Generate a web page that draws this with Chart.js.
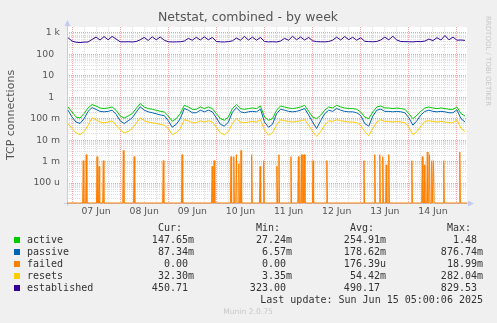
<!DOCTYPE html>
<html>
<head>
<meta charset="utf-8">
<script src="https://cdn.jsdelivr.net/npm/chart.js@4.4.1/dist/chart.umd.min.js"></script>
<style>
  html, body { margin: 0; padding: 0; background: #f0f0f0; }
  #wrap { width: 497px; height: 323px; }
</style>
</head>
<body>
<div id="wrap"><canvas id="netstat" width="497" height="323"></canvas></div>
<script>
// samples every 2 hours, hours counted from 06 Jun 00:00
const startHour = 22;
const stepHours = 2;
const axisMinHour = 21.5;
const axisMaxHour = 221;
const yMin = 1.17e-5;
const yMax = 1900;

const dayLabels = ["07 Jun", "08 Jun", "09 Jun", "10 Jun", "11 Jun", "12 Jun", "13 Jun", "14 Jun"];
const firstLabelHour = 36;

const decadeLabels = { "-4": "100 u", "-3": "1 m", "-2": "10 m", "-1": "100 m", "0": "1  ", "1": "10  ", "2": "100  ", "3": "1 k" };

const active = [
  0.353, 0.206, 0.120, 0.108, 0.173, 0.317, 0.456, 0.393, 0.317, 0.297,
  0.317, 0.353, 0.247, 0.134, 0.108, 0.134, 0.173, 0.297, 0.508, 0.353,
  0.297, 0.275, 0.247, 0.222, 0.206, 0.134, 0.076, 0.101, 0.173, 0.423,
  0.353, 0.275, 0.275, 0.353, 0.297, 0.353, 0.297, 0.173, 0.101, 0.085,
  0.120, 0.297, 0.456, 0.297, 0.275, 0.297, 0.317, 0.297, 0.393, 0.120,
  0.085, 0.101, 0.247, 0.393, 0.353, 0.317, 0.297, 0.317, 0.353, 0.423,
  0.222, 0.120, 0.101, 0.145, 0.247, 0.353, 0.317, 0.423, 0.353, 0.317,
  0.297, 0.297, 0.275, 0.206, 0.120, 0.101, 0.206, 0.353, 0.393, 0.317,
  0.317, 0.297, 0.317, 0.297, 0.275, 0.173, 0.101, 0.145, 0.222, 0.317,
  0.353, 0.317, 0.297, 0.317, 0.297, 0.275, 0.275, 0.353, 0.173, 0.134
];
const passive = [
  0.25, 0.12, 0.07, 0.06, 0.10, 0.22, 0.33, 0.27, 0.22, 0.21,
  0.22, 0.25, 0.16, 0.08, 0.06, 0.08, 0.11, 0.20, 0.36, 0.25,
  0.21, 0.19, 0.17, 0.15, 0.14, 0.08, 0.04, 0.055, 0.10, 0.30,
  0.25, 0.19, 0.19, 0.25, 0.21, 0.25, 0.21, 0.11, 0.055, 0.045,
  0.07, 0.20, 0.33, 0.21, 0.19, 0.21, 0.22, 0.21, 0.28, 0.07,
  0.04, 0.055, 0.17, 0.28, 0.25, 0.22, 0.21, 0.22, 0.25, 0.30,
  0.15, 0.07, 0.035, 0.08, 0.17, 0.25, 0.22, 0.30, 0.25, 0.22,
  0.21, 0.21, 0.19, 0.14, 0.06, 0.045, 0.13, 0.25, 0.28, 0.22,
  0.22, 0.21, 0.22, 0.21, 0.19, 0.11, 0.05, 0.08, 0.15, 0.22,
  0.25, 0.22, 0.21, 0.22, 0.21, 0.19, 0.19, 0.26, 0.10, 0.07
];
const resets = [
  0.06, 0.035, 0.022, 0.018, 0.025, 0.05, 0.11, 0.09, 0.07, 0.065,
  0.07, 0.08, 0.05, 0.03, 0.022, 0.025, 0.035, 0.06, 0.11, 0.08,
  0.07, 0.065, 0.06, 0.055, 0.05, 0.035, 0.018, 0.022, 0.035, 0.09,
  0.08, 0.065, 0.065, 0.08, 0.07, 0.08, 0.07, 0.04, 0.022, 0.018,
  0.025, 0.06, 0.10, 0.07, 0.065, 0.07, 0.075, 0.07, 0.09, 0.03,
  0.017, 0.022, 0.05, 0.09, 0.08, 0.075, 0.07, 0.075, 0.08, 0.09,
  0.05, 0.025, 0.015, 0.025, 0.05, 0.08, 0.075, 0.09, 0.08, 0.075,
  0.07, 0.07, 0.065, 0.05, 0.025, 0.016, 0.035, 0.07, 0.09, 0.075,
  0.075, 0.07, 0.075, 0.07, 0.065, 0.04, 0.018, 0.025, 0.045, 0.075,
  0.08, 0.075, 0.07, 0.075, 0.07, 0.065, 0.065, 0.09, 0.035, 0.025
];
const established = [
  600, 420, 370, 360, 375, 380, 500, 640, 470, 680,
  480, 690, 520, 390, 385, 390, 380, 400, 480, 620,
  450, 660, 480, 650, 460, 390, 380, 385, 390, 420,
  560, 460, 630, 470, 660, 480, 620, 400, 385, 380,
  395, 430, 580, 460, 690, 470, 640, 460, 620, 400,
  385, 390, 380, 420, 560, 460, 700, 480, 650, 470,
  620, 430, 395, 390, 385, 400, 460, 640, 470, 680,
  490, 630, 460, 600, 410, 395, 390, 400, 470, 640,
  480, 700, 470, 400, 395, 390, 385, 400, 395, 420,
  520, 440, 600, 470, 760, 480, 640, 460, 470, 450
];
// failed: short spikes, zero otherwise
const failedHours = [
  29.6, 31.1, 36.5, 37.5, 39.6, 49.6, 55.0, 69.5, 78.9, 93.9, 94.9,
  103.3, 104.7, 106.0, 107.2, 108.3, 113.6, 117.8, 119.6, 126.2, 127.2,
  133.2, 136.9, 138.4, 139.2, 139.9, 144.2, 151.1, 169.6, 175.0, 177.5,
  179.0, 180.7, 182.0, 193.5, 198.7, 199.7, 201.2, 202.3, 203.4, 204.3,
  209.4, 217.4
];
const failedValues = [
  0.0011, 0.0021, 0.0017, 0.0006, 0.0011, 0.0033, 0.0017, 0.0011, 0.0021, 0.0006, 0.0011,
  0.0017, 0.0017, 0.0021, 0.0008, 0.0033, 0.0021, 0.0006, 0.0011, 0.0006, 0.0021,
  0.0017, 0.0017, 0.0021, 0.0021, 0.0021, 0.0011, 0.0011, 0.0011, 0.0021, 0.0021,
  0.0017, 0.0007, 0.0021, 0.0011, 0.0017, 0.0007, 0.0028, 0.0021, 0.0011, 0.0011,
  0.0011, 0.0028
];

const seriesNames = ["active", "passive", "failed", "resets", "established"];
const seriesColors = ["#00cc00", "#0066b3", "#ff8000", "#ffcc00", "#330099"];
const curValues = ["147.65m", "87.34m", "0.00", "32.30m", "450.71"];
const minValues = ["27.24m", "6.57m", "0.00", "3.35m", "323.00"];
const avgValues = ["254.91m", "178.62m", "176.39u", "54.42m", "490.17"];
const maxValues = ["1.48", "876.74m", "18.99m", "282.04m", "829.53"];
const lastUpdate = "Last update: Sun Jun 15 05:00:06 2025";

function toPoints(values) {
  return values.map((v, i) => ({ x: startHour + i * stepHours, y: v }));
}

// zero is drawn on the floor of the log axis, like rrdtool does
const failedPoints = [{ x: axisMinHour, y: yMin }];
failedHours.forEach((h, i) => {
  failedPoints.push({ x: h - 0.3, y: yMin });
  failedPoints.push({ x: h, y: failedValues[i] });
  failedPoints.push({ x: h + 0.3, y: yMin });
});
failedPoints.push({ x: axisMaxHour, y: yMin });

const PLOT = { left: 67, right: 467, top: 27, bottom: 203 };

const decorations = {
  id: "decorations",
  beforeDraw(chart) {
    const c = chart.ctx;
    const a = chart.chartArea;
    c.save();
    c.fillStyle = "#f0f0f0";
    c.fillRect(0, 0, chart.width, chart.height);
    c.fillStyle = "#ffffff";
    c.fillRect(a.left, a.top, a.right - a.left, a.bottom - a.top);
    c.restore();
  },
  beforeDatasetsDraw(chart) {
    const c = chart.ctx;
    const a = chart.chartArea;
    c.save();
    c.strokeStyle = "#c4cbf0";
    c.fillStyle = "#c4cbf0";
    c.lineWidth = 1;
    c.beginPath();
    c.moveTo(a.left + 0.5, a.bottom + 3);
    c.lineTo(a.left + 0.5, a.top - 2);
    c.moveTo(a.left - 3, a.bottom + 0.5);
    c.lineTo(a.right + 2, a.bottom + 0.5);
    c.stroke();
    c.beginPath();
    c.moveTo(a.left + 0.5, a.top - 7);
    c.lineTo(a.left - 2.5, a.top - 1);
    c.lineTo(a.left + 3.5, a.top - 1);
    c.closePath();
    c.fill();
    c.beginPath();
    c.moveTo(a.right + 7, a.bottom + 0.5);
    c.lineTo(a.right + 1, a.bottom - 2.5);
    c.lineTo(a.right + 1, a.bottom + 3.5);
    c.closePath();
    c.fill();
    c.restore();
  },
  afterDraw(chart) {
    const c = chart.ctx;
    c.save();
    // title
    c.fillStyle = "#555555";
    c.font = "12.5px 'DejaVu Sans'";
    c.textAlign = "center";
    c.textBaseline = "middle";
    c.fillText("Netstat, combined - by week", 248, 18);

    // y axis title
    c.save();
    c.translate(11, 115);
    c.rotate(-Math.PI / 2);
    c.font = "11px 'DejaVu Sans'";
    c.fillText("TCP connections", 0, 0);
    c.restore();

    // watermark
    c.save();
    c.translate(488, 16);
    c.rotate(Math.PI / 2);
    c.fillStyle = "#c8c8c8";
    c.font = "7px 'DejaVu Sans'";
    c.textAlign = "left";
    c.fillText("RRDTOOL / TOBI OETIKER", 0, 0);
    c.restore();

    // legend table
    const mono = "10px 'DejaVu Sans Mono'";
    c.font = mono;
    c.fillStyle = "#333333";
    c.textAlign = "right";
    const colRight = [194, 292, 386, 483];
    const headers = ["Cur:", "Min:", "Avg:", "Max:"];
    headers.forEach((h, i) => c.fillText(h, colRight[i] - 12, 228));
    const pad = (s) => (/[0-9]$/.test(s) ? s + " " : s);
    seriesNames.forEach((name, i) => {
      const y = 240 + i * 12;
      c.fillStyle = seriesColors[i];
      c.fillRect(14, y - 3, 6, 6);
      c.fillStyle = "#333333";
      c.textAlign = "left";
      c.fillText(name, 27, y);
      c.textAlign = "right";
      [curValues, minValues, avgValues, maxValues].forEach((col, j) => {
        c.fillText(pad(col[i]), colRight[j], y);
      });
    });
    c.fillText(lastUpdate, 483, 300);

    c.textAlign = "center";
    c.fillStyle = "#c8c8c8";
    c.font = "7.6px 'DejaVu Sans'";
    c.fillText("Munin 2.0.75", 248, 312);
    c.restore();
  }
};

const minorGrid = "rgba(200,200,200,0.6)";
const majorGrid = "rgba(230,130,130,0.7)";

new Chart(document.getElementById("netstat"), {
  type: "line",
  data: {
    datasets: [
      { label: "active", data: toPoints(active), borderColor: seriesColors[0], order: 5 },
      { label: "passive", data: toPoints(passive), borderColor: seriesColors[1], order: 4 },
      { label: "failed", data: failedPoints, borderColor: seriesColors[2], order: 3,
        clip: { left: 0, top: 0, right: 0, bottom: 2 } },
      { label: "resets", data: toPoints(resets), borderColor: seriesColors[3], order: 2 },
      { label: "established", data: toPoints(established), borderColor: seriesColors[4], order: 1 }
    ]
  },
  options: {
    responsive: false,
    animation: false,
    devicePixelRatio: 1,
    layout: { padding: { left: 0, top: PLOT.top, right: 497 - PLOT.right, bottom: 100 } },
    elements: {
      line: { borderWidth: 1, tension: 0, fill: false },
      point: { radius: 0, hoverRadius: 0 }
    },
    plugins: { legend: { display: false }, tooltip: { enabled: false }, title: { display: false } },
    scales: {
      x: {
        type: "linear",
        min: axisMinHour,
        max: axisMaxHour,
        afterFit: (s) => { s.height = 20; },
        afterBuildTicks: (s) => {
          const t = [];
          for (let h = 24; h <= axisMaxHour; h += 6) t.push({ value: h, major: h % 24 === 0 });
          s.ticks = t;
        },
        ticks: {
          autoSkip: false,
          maxRotation: 0,
          padding: 3,
          color: "#555555",
          font: { family: "DejaVu Sans", size: 9.3 },
          callback: (v) => (v % 24 === 12 ? dayLabels[(v - firstLabelHour) / 24] : "")
        },
        grid: {
          drawTicks: false,
          lineWidth: 1,
          color: (ctx) => (ctx.tick && ctx.tick.value % 24 === 0 ? majorGrid : minorGrid)
        },
        border: { display: false, dash: [1, 1] }
      },
      y: {
        type: "logarithmic",
        min: yMin,
        max: yMax,
        afterFit: (s) => { s.width = PLOT.left; },
        afterBuildTicks: (s) => {
          const t = [];
          for (let e = -5; e <= 3; e++) {
            for (let k = 1; k <= 9; k++) {
              const v = k * Math.pow(10, e);
              if (v >= yMin && v <= yMax) t.push({ value: v, major: k === 1 });
            }
          }
          s.ticks = t;
        },
        ticks: {
          autoSkip: false,
          padding: 7,
          color: "#555555",
          font: { family: "DejaVu Sans", size: 9.3 },
          callback: function (v, i, ticks) {
            if (!ticks[i].major) return "";
            return decadeLabels[String(Math.round(Math.log10(v)))];
          }
        },
        grid: {
          drawTicks: false,
          lineWidth: 1,
          color: (ctx) => (ctx.tick && ctx.tick.major ? majorGrid : minorGrid)
        },
        border: { display: false, dash: [1, 1] }
      }
    }
  },
  plugins: [decorations]
});
</script>
</body>
</html>
